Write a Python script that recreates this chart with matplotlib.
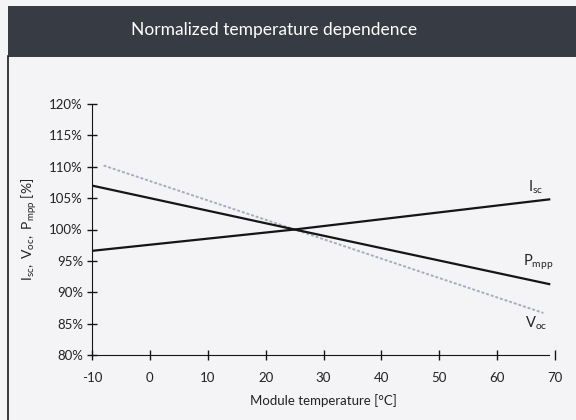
import matplotlib
matplotlib.use("Agg")
import matplotlib.pyplot as plt
from matplotlib.patches import Rectangle
from matplotlib.ticker import FuncFormatter

plt.rcParams['font.family'] = ['Lato', 'DejaVu Sans']
plt.rcParams['mathtext.fontset'] = 'custom'
plt.rcParams['mathtext.rm'] = 'Lato'
plt.rcParams['mathtext.it'] = 'Lato'
plt.rcParams['axes.unicode_minus'] = False

# data
isc_temp = [-10, 25, 69]
isc_vals = [96.6, 100.0, 104.8]
pmpp_temp = [-10, 25, 69]
pmpp_vals = [107.0, 100.0, 91.3]
voc_temp = [-8, 25, 68]
voc_vals = [110.2, 100.0, 86.7]

x_ticks = [-10, 0, 10, 20, 30, 40, 50, 60, 70]
y_ticks = [80, 85, 90, 95, 100, 105, 110, 115, 120]

W, H = 576, 420
fig = plt.figure(figsize=(W / 100, H / 100), dpi=100)
fig.patch.set_facecolor('#f4f4f6')

# frame and title bar
fig.add_artist(Rectangle((8 / W, -0.05), 1.0, 1.0 - 56 / H + 0.05, transform=fig.transFigure,
                         facecolor='none', edgecolor='#1a1a1a', lw=1.2))
fig.add_artist(Rectangle((8 / W, 1 - 56 / H), 1.0, 50 / H, transform=fig.transFigure,
                         facecolor='#373b43', edgecolor='none'))
fig.text(274 / W, 1 - 30 / H, 'Normalized temperature dependence', color='white',
         fontsize=12.5, ha='center', va='center')

ax = fig.add_axes([92 / W, 1 - 355 / H, (555 - 92) / W, (355 - 104) / H])
ax.set_facecolor('none')

ax.plot(voc_temp, voc_vals, color='#a8adbd', lw=1.4, ls=(0, (1.5, 1)))
ax.plot(isc_temp, isc_vals, color='#151515', lw=1.6)
ax.plot(pmpp_temp, pmpp_vals, color='#151515', lw=1.6)

ax.text(65.3, 106.8, r'$\mathregular{I_{sc}}$', fontsize=10.5, color='#222222', va='center')
ax.text(64.4, 94.7, r'$\mathregular{P_{mpp}}$', fontsize=10.5, color='#222222', va='center')
ax.text(64.8, 85.1, r'$\mathregular{V_{oc}}$', fontsize=10.5, color='#222222', va='center')

ax.set_xlim(-10, 70)
ax.set_ylim(80, 120)
ax.set_xticks(x_ticks)
ax.set_yticks(y_ticks)
ax.yaxis.set_major_formatter(FuncFormatter(lambda v, p: f'{v:.0f}%'))

for s in ['top', 'right']:
    ax.spines[s].set_visible(False)
ax.spines['left'].set_color('#151515')
ax.spines['bottom'].set_color('#151515')
ax.spines['bottom'].set_bounds(-10, 69)
ax.tick_params(direction='inout', length=7, width=1, color='#151515',
               labelsize=9.5, labelcolor='#222222')
ax.tick_params(axis='x', pad=9)
ax.tick_params(axis='y', pad=3)

ax.set_xlabel('Module temperature [°C]', fontsize=9.5, color='#222222', labelpad=7)
ax.set_ylabel(r'$\mathregular{I_{sc},\ V_{oc},\ P_{mpp}}$ [%]', fontsize=10, color='#222222',
              labelpad=7)

fig.savefig('out.png', dpi=100, facecolor=fig.get_facecolor())
